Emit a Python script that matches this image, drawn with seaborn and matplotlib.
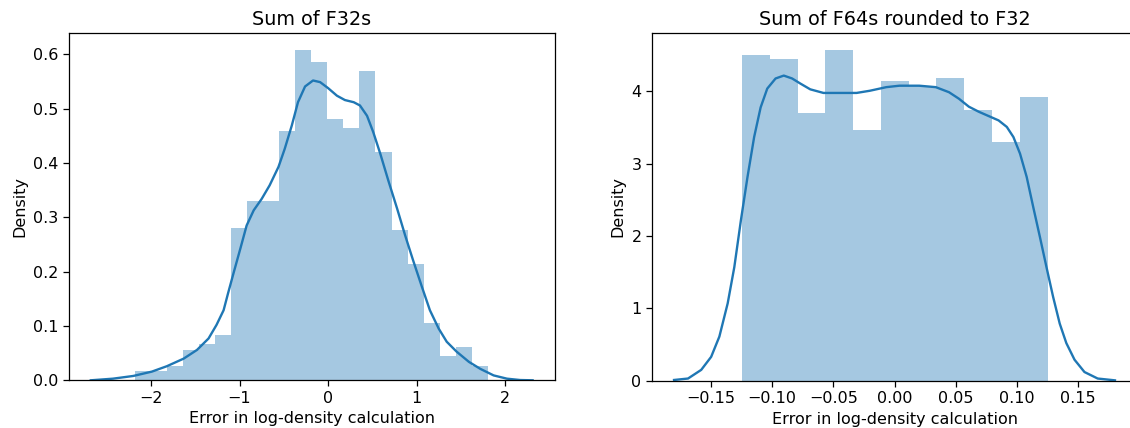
import numpy as np
import pandas as pd
import matplotlib
matplotlib.use("Agg")
import matplotlib.pyplot as plt
import seaborn as sns

# left panel: Sum of F32s
f32_lo, f32_hi = -2.185, 1.805
f32_heights = [0.017, 0.017, 0.027, 0.055, 0.067, 0.083, 0.281, 0.331, 0.331, 0.459, 0.609,
               0.586, 0.481, 0.465, 0.569, 0.420, 0.277, 0.215, 0.105, 0.045, 0.061, 0.027]
f32_kde_x = [-2.68, -2.43, -2.20, -1.99, -1.82, -1.63, -1.48, -1.35, -1.26, -1.18, -1.13, -1.07,
             -0.99, -0.92, -0.84, -0.75, -0.66, -0.56, -0.49, -0.41, -0.34, -0.26, -0.17, -0.09,
             0.0, 0.10, 0.19, 0.29, 0.36, 0.44, 0.51, 0.59, 0.68, 0.78, 0.87, 0.96, 1.06, 1.15,
             1.25, 1.34, 1.45, 1.59, 1.72, 1.87, 2.02, 2.17, 2.31]
f32_kde_y = [0.0, 0.003, 0.008, 0.016, 0.026, 0.040, 0.056, 0.077, 0.102, 0.129, 0.160, 0.196,
             0.243, 0.285, 0.313, 0.334, 0.359, 0.393, 0.426, 0.469, 0.512, 0.541, 0.552, 0.549,
             0.538, 0.524, 0.516, 0.512, 0.506, 0.487, 0.457, 0.417, 0.368, 0.316, 0.267, 0.221,
             0.172, 0.129, 0.095, 0.071, 0.053, 0.034, 0.021, 0.009, 0.003, 0.0005, 0.0]

# right panel: Sum of F64s rounded to F32
f64_lo, f64_hi = -0.1245, 0.1250
f64_heights = [4.50, 4.45, 3.70, 4.58, 3.47, 4.14, 4.08, 4.19, 3.74, 3.30, 3.92]
f64_kde_x = [-0.1800, -0.1686, -0.1578, -0.1497, -0.1430, -0.1362, -0.1308, -0.1254, -0.1200,
             -0.1146, -0.1093, -0.1039, -0.0971, -0.0904, -0.0836, -0.0769, -0.0688, -0.0580,
             -0.0445, -0.0310, -0.0202, -0.0067, 0.0040, 0.0202, 0.0337, 0.0445, 0.0526,
             0.0607, 0.0688, 0.0769, 0.0850, 0.0917, 0.0971, 0.1025, 0.1079, 0.1133, 0.1187,
             0.1241, 0.1295, 0.1349, 0.1403, 0.1470, 0.1551, 0.1659, 0.1800]
f64_kde_y = [0.01, 0.03, 0.15, 0.33, 0.61, 1.07, 1.57, 2.22, 2.82, 3.37, 3.78, 4.04, 4.18, 4.22,
             4.18, 4.11, 4.03, 3.98, 3.98, 3.98, 4.01, 4.06, 4.08, 4.08, 4.06, 3.99, 3.90, 3.79,
             3.72, 3.66, 3.60, 3.51, 3.37, 3.14, 2.82, 2.40, 1.99, 1.57, 1.16, 0.79, 0.52, 0.29,
             0.12, 0.03, 0.005]

blue = "#1f77b4"
plt.rcParams.update({
    "font.size": 11.5,
    "axes.titlesize": 13.8,
    "axes.labelsize": 11.5,
    "xtick.labelsize": 11.5,
    "ytick.labelsize": 11.5,
    "axes.linewidth": 0.9,
    "xtick.major.size": 4,
    "ytick.major.size": 4,
    "xtick.major.width": 0.9,
    "ytick.major.width": 0.9,
})

W, H = 1130, 428
fig = plt.figure(figsize=(W / 100, H / 100), dpi=100)
ax1 = fig.add_axes([68.7 / W, (H - 380.3) / H, 486 / W, 347.3 / H])
ax2 = fig.add_axes([652 / W, (H - 380.7) / H, 485 / W, 347.7 / H])


def draw(ax, lo, hi, heights, kx, ky, title):
    n = len(heights)
    edges = np.linspace(lo, hi, n + 1)
    bars = pd.DataFrame({"center": (edges[:-1] + edges[1:]) / 2, "height": heights})
    sns.histplot(data=bars, x="center", weights="height", bins=n, binrange=(lo, hi),
                 stat="count", color=blue, alpha=0.4, linewidth=0, ax=ax)
    sns.lineplot(x=kx, y=ky, color=blue, linewidth=1.7, ax=ax)
    ax.set_title(title)
    ax.set_xlabel("Error in log-density calculation")
    ax.set_ylabel("Density")


draw(ax1, f32_lo, f32_hi, f32_heights, f32_kde_x, f32_kde_y, "Sum of F32s")
draw(ax2, f64_lo, f64_hi, f64_heights, f64_kde_x, f64_kde_y, "Sum of F64s rounded to F32")
ax1.set_xticks([-2, -1, 0, 1, 2])
ax2.set_xticks([-0.15, -0.10, -0.05, 0.00, 0.05, 0.10, 0.15])

fig.savefig("out.png", dpi=100)
